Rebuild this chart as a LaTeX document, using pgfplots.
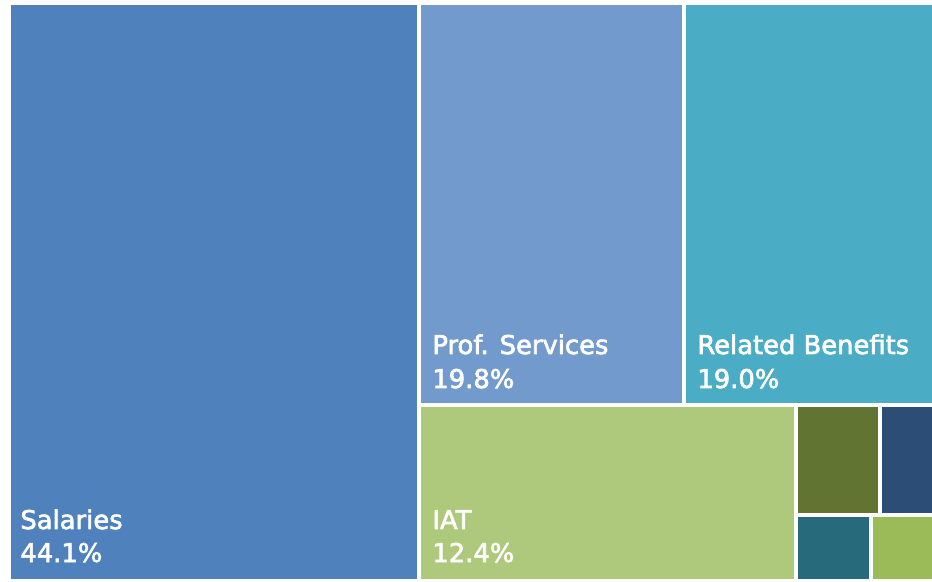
\documentclass[border=0pt]{standalone}
\usepackage{pgfplots}
\pgfplotsset{compat=1.18}
\usepackage{fontspec}
\setmainfont{DejaVu Sans}[BoldFont=DejaVu Sans, BoldFeatures={FakeBold=2.4}]
\definecolor{cSal}{RGB}{79,129,189}
\definecolor{cProf}{RGB}{114,154,204}
\definecolor{cRel}{RGB}{75,172,198}
\definecolor{cIAT}{RGB}{174,200,124}
\definecolor{cDkG}{RGB}{97,116,49}
\definecolor{cNavy}{RGB}{44,77,117}
\definecolor{cTeal}{RGB}{38,106,124}
\definecolor{cLtG}{RGB}{155,187,89}
\tikzset{lbl/.style={text=white, inner sep=0pt, anchor=base west, font=\fontsize{12.9}{15}\selectfont\bfseries}}
\begin{document}
\begin{tikzpicture}
\begin{axis}[
  scale only axis, width=466pt, height=291pt,
  xmin=0, xmax=932, ymin=0, ymax=582, y dir=reverse,
  hide axis, clip=false,
]
\addplot[fill=white, draw=none, mark=none] coordinates {(0,0) (932,0) (932,582) (0,582)} -- cycle;
\addplot[fill=cSal, draw=none, mark=none] coordinates {(11,5) (417,5) (417,579) (11,579)} -- cycle;
\addplot[fill=cProf, draw=none, mark=none] coordinates {(421,5) (682,5) (682,403) (421,403)} -- cycle;
\addplot[fill=cRel, draw=none, mark=none] coordinates {(686,5) (932,5) (932,403) (686,403)} -- cycle;
\addplot[fill=cIAT, draw=none, mark=none] coordinates {(421,407) (794,407) (794,579) (421,579)} -- cycle;
\addplot[fill=cDkG, draw=none, mark=none] coordinates {(798,407) (878,407) (878,513) (798,513)} -- cycle;
\addplot[fill=cNavy, draw=none, mark=none] coordinates {(882,407) (932,407) (932,513) (882,513)} -- cycle;
\addplot[fill=cTeal, draw=none, mark=none] coordinates {(798,517) (869,517) (869,579) (798,579)} -- cycle;
\addplot[fill=cLtG, draw=none, mark=none] coordinates {(873,517) (932,517) (932,579) (873,579)} -- cycle;
\node[lbl] at (axis cs:20,529) {Salaries};
\node[lbl] at (axis cs:20,562) {44.1\%};
\node[lbl] at (axis cs:432,354) {Prof. Services};
\node[lbl] at (axis cs:432,388) {19.8\%};
\node[lbl] at (axis cs:697,354) {Related Benefits};
\node[lbl] at (axis cs:697,388) {19.0\%};
\node[lbl] at (axis cs:432,529) {IAT};
\node[lbl] at (axis cs:432,562) {12.4\%};
\end{axis}
\end{tikzpicture}
\end{document}
